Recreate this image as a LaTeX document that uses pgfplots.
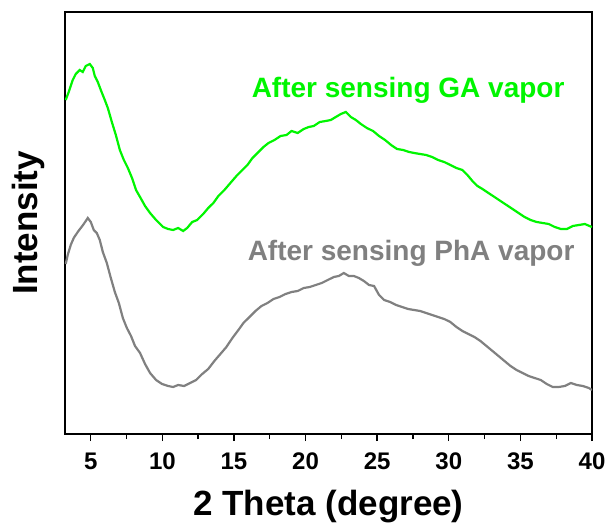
\documentclass[border=0pt]{standalone}
\usepackage{pgfplots}
\pgfplotsset{compat=1.18}
\usepackage{fontspec}
\setmainfont{Liberation Sans}
\definecolor{ga}{RGB}{0,245,0}
\definecolor{pha}{RGB}{128,128,128}
\begin{document}
\begin{tikzpicture}
\path[use as bounding box] (-65pt,-98pt) rectangle (545pt,434pt);
\begin{axis}[
  at={(0,0)}, anchor=south west,
  scale only axis, width=527pt, height=422pt,
  xmin=3.2, xmax=40, ymin=98, ymax=520,
  axis line style={line width=1.6pt},
  xtick={5,10,...,40}, minor xtick={7.5,12.5,...,37.5},
  ytick=\empty,
  tick align=outside, xtick pos=bottom,
  major tick length=7pt, minor tick length=5pt,
  every tick/.style={line width=1.4pt, black},
  /pgf/number format/assume math mode=true,
  tick label style={font=\fontsize{24}{27}\selectfont\bfseries},
  xticklabel style={yshift=-8pt},
  xlabel={2 Theta (degree)},
  ylabel={Intensity},
  label style={font=\fontsize{35}{40}\selectfont\bfseries},
  xlabel style={yshift=-14pt},
  ylabel style={yshift=10pt},
  clip=true,
]
\addplot[ga, line width=2.2pt] coordinates {
(3.25,432)(3.46,440)(3.74,452)(3.95,458)(4.23,462)(4.44,460)(4.65,466)(4.93,468)(5.14,464)(5.28,456)(5.49,450)(5.70,442)(5.98,432)(6.19,424)(6.47,410)(6.75,397)(7.03,382)(7.31,372)(7.59,364)(7.88,354)(8.16,342)(8.44,335)(8.79,326)(9.14,319)(9.56,312)(10.05,305)(10.40,303)(10.75,302)(11.10,304)(11.45,301)(11.73,304)(12.08,310)(12.43,312)(12.85,318)(13.20,324)(13.56,329)(13.91,336)(14.33,342)(14.75,349)(15.17,356)(15.59,362)(15.94,367)(16.29,374)(16.71,380)(17.06,385)(17.41,389)(17.83,392)(18.25,396)(18.67,397)(19.02,401)(19.45,399)(19.87,403)(20.22,405)(20.57,406)(20.99,410)(21.41,411)(21.76,412)(22.11,415)(22.46,418)(22.81,420)(23.16,415)(23.51,412)(23.86,408)(24.28,404)(24.71,401)(25.13,396)(25.55,392)(25.97,387)(26.39,383)(26.81,382)(27.23,380)(27.58,379)(28.00,378)(28.42,377)(28.84,375)(29.26,372)(29.68,370)(30.11,367)(30.53,364)(30.95,362)(31.30,357)(31.65,351)(32.00,346)(32.35,343)(32.77,339)(33.19,335)(33.61,331)(34.03,327)(34.45,323)(34.87,319)(35.29,315)(35.71,312)(36.14,310)(36.56,309)(36.98,308)(37.40,305)(37.82,303)(38.24,303)(38.66,306)(39.08,307)(39.50,308)(39.99,305)
};
\addplot[pha, line width=2.2pt] coordinates {
(3.25,268)(3.39,277)(3.60,287)(3.81,294)(4.09,300)(4.30,304)(4.51,308)(4.79,314)(5.00,310)(5.21,302)(5.42,299)(5.63,292)(5.84,280)(6.12,269)(6.40,254)(6.68,240)(6.96,229)(7.24,214)(7.52,204)(7.81,196)(8.09,186)(8.44,179)(8.79,168)(9.14,159)(9.56,152)(9.98,148)(10.40,146)(10.75,145)(11.10,147)(11.52,146)(11.94,149)(12.36,152)(12.78,158)(13.20,163)(13.63,171)(14.05,178)(14.47,185)(14.89,194)(15.31,202)(15.66,209)(16.08,215)(16.50,221)(16.92,226)(17.34,229)(17.76,233)(18.18,235)(18.60,238)(19.02,240)(19.45,241)(19.87,244)(20.29,245)(20.71,247)(21.13,249)(21.55,252)(21.97,255)(22.32,256)(22.67,259)(23.02,256)(23.37,256)(23.72,254)(24.07,251)(24.43,247)(24.78,246)(25.13,237)(25.48,232)(25.90,230)(26.32,227)(26.74,225)(27.16,223)(27.58,222)(28.00,221)(28.42,219)(28.84,217)(29.26,215)(29.68,213)(30.11,210)(30.53,205)(30.95,201)(31.37,198)(31.79,195)(32.21,191)(32.63,186)(33.05,181)(33.47,176)(33.89,171)(34.31,166)(34.73,162)(35.15,159)(35.58,156)(36.00,154)(36.42,152)(36.84,148)(37.26,145)(37.68,145)(38.10,146)(38.52,149)(38.94,147)(39.36,146)(39.78,144)(39.99,142)
};
\node[text=ga, font=\fontsize{28}{32}\selectfont\bfseries] at (axis cs:27.16,442) {After sensing GA vapor};
\node[text=pha, font=\fontsize{28}{32}\selectfont\bfseries] at (axis cs:27.37,279) {After sensing PhA vapor};
\end{axis}
\end{tikzpicture}
\end{document}
